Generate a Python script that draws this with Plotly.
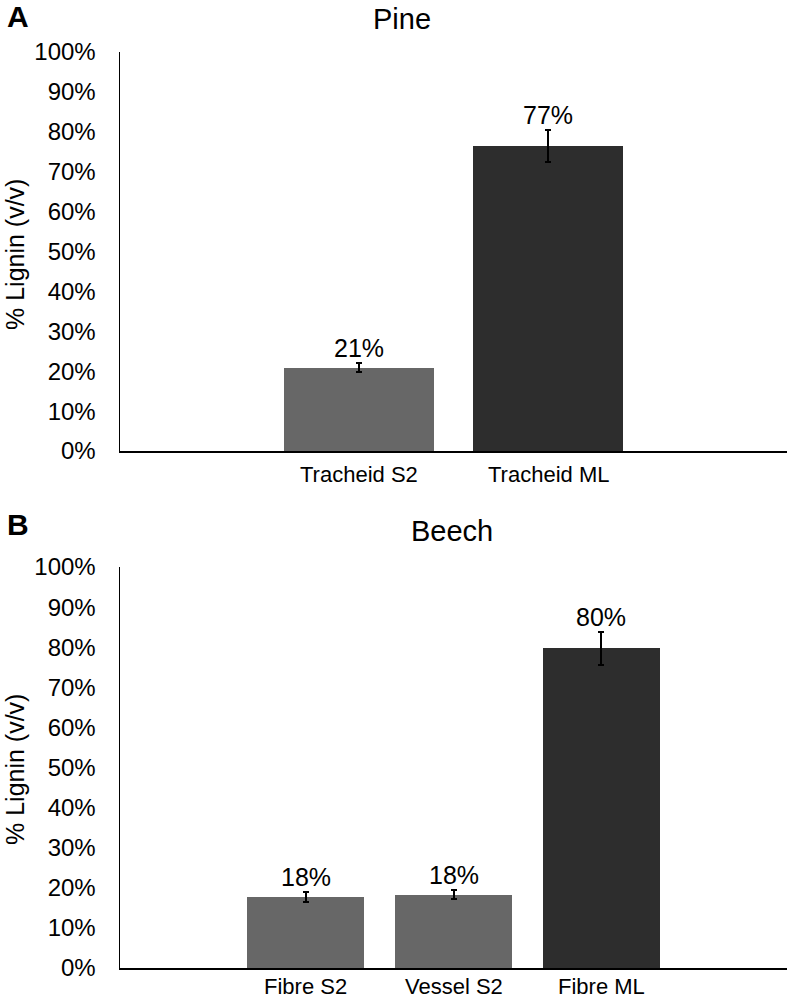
import plotly.graph_objects as go

# ---- data ----
pine_categories = ["Tracheid S2", "Tracheid ML"]
pine_values = [20.9, 76.4]
pine_errors = [1.2, 4.0]
pine_labels = ["21%", "77%"]

beech_categories = ["Fibre S2", "Vessel S2", "Fibre ML"]
beech_values = [17.7, 18.3, 79.7]
beech_errors = [1.2, 1.1, 4.1]
beech_labels = ["18%", "18%", "80%"]

y_ticks = list(range(0, 101, 10))
y_tick_text = [f"{v}%" for v in y_ticks]

GRAY = "#676767"
DARK = "#2d2d2d"
pine_colors = [GRAY, DARK]
beech_colors = [GRAY, GRAY, DARK]

FONT = "Liberation Sans, Arial, sans-serif"
W, H = 789, 1001


def fx(p):
    return p / W


def fy(p):
    return 1 - p / H


fig = go.Figure()


def add_panel(cats, vals, errs, labels, colors, xa, ya, cat_shift):
    xs = list(range(len(cats)))
    fig.add_trace(go.Bar(
        x=xs, y=vals, width=0.79,
        marker=dict(color=colors, line=dict(width=0)),
        error_y=dict(type="data", array=errs, visible=True, color="black",
                     thickness=2, width=3),
        xaxis=xa, yaxis=ya, showlegend=False, hoverinfo="skip",
    ))
    for x, v, e, t in zip(xs, vals, errs, labels):
        fig.add_annotation(x=x, y=v + e, text=t, showarrow=False,
                           xref=xa, yref=ya, yanchor="middle", yshift=15,
                           font=dict(family=FONT, size=25, color="black"))
    for x, c in zip(xs, cats):
        fig.add_annotation(x=x, y=0, text=c, showarrow=False,
                           xref=xa, yref=ya, yanchor="middle", yshift=-cat_shift,
                           font=dict(family=FONT, size=22, color="black"))


add_panel(pine_categories, pine_values, pine_errors, pine_labels, pine_colors, "x", "y", 23)
add_panel(beech_categories, beech_values, beech_errors, beech_labels, beech_colors, "x2", "y2", 18)


def xaxis_cfg(cats, anchor):
    n = len(cats)
    return dict(
        domain=[fx(120), fx(787)], anchor=anchor,
        range=[-1.257, n - 1 + 1.257],
        showticklabels=False,
        showline=True, linecolor="black", linewidth=2,
        ticks="", showgrid=False, zeroline=False, automargin=False,
        fixedrange=True,
    )


def yaxis_cfg(top_px, bottom_px, anchor):
    return dict(
        domain=[fy(bottom_px), fy(top_px)], anchor=anchor,
        range=[0, 100], tickvals=y_ticks, ticktext=y_tick_text,
        showline=True, linecolor="black", linewidth=1.5,
        ticks="", showgrid=False, zeroline=False, automargin=False,
        tickfont=dict(family=FONT, size=24, color="black"),
        ticklabelstandoff=18, fixedrange=True,
    )


fig.update_layout(
    width=W, height=H, autosize=False,
    margin=dict(l=0, r=0, t=0, b=0, pad=0, autoexpand=False),
    paper_bgcolor="white", plot_bgcolor="white",
    xaxis=xaxis_cfg(pine_categories, "y"),
    yaxis=yaxis_cfg(52, 451, "x"),
    xaxis2=xaxis_cfg(beech_categories, "y2"),
    yaxis2=yaxis_cfg(567, 968, "x2"),
    bargap=0,
)

# titles, panel letters, axis titles
texts = [
    dict(text="A", x=5, y=17, size=30, bold=True, xanchor="left"),
    dict(text="Pine", x=402, y=19, size=29, bold=False, xanchor="center"),
    dict(text="B", x=5, y=524, size=30, bold=True, xanchor="left"),
    dict(text="Beech", x=452, y=531, size=29, bold=False, xanchor="center"),
]
for t in texts:
    fig.add_annotation(
        text=f"<b>{t['text']}</b>" if t["bold"] else t["text"],
        x=fx(t["x"]), y=fy(t["y"]), xref="paper", yref="paper",
        xanchor=t["xanchor"], yanchor="middle", showarrow=False,
        font=dict(family=FONT, size=t["size"], color="black"),
    )

for yc in (255, 770):
    fig.add_annotation(
        text="% Lignin (v/v)", x=fx(15), y=fy(yc),
        xref="paper", yref="paper", textangle=-90,
        xanchor="center", yanchor="middle", showarrow=False,
        font=dict(family=FONT, size=25, color="black"),
    )

fig.write_html(
    "out.html",
    config={"responsive": False, "displayModeBar": False, "staticPlot": True},
    post_script="document.body.style.margin='0';document.body.style.overflow='hidden';",
)
